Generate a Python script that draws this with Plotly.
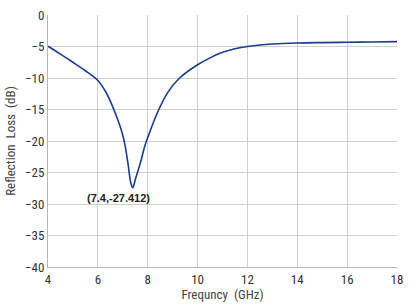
import plotly.graph_objects as go

freq = [4.0, 4.5, 5.0, 5.5, 6.0, 6.33, 6.59, 6.85, 7.0, 7.1, 7.22, 7.32, 7.4, 7.51, 7.71, 7.9, 8.1, 8.4, 8.82, 9.28, 10.0, 10.5, 10.92, 11.5, 12.0, 12.5, 13.0, 14.0, 15.0, 16.0, 17.0, 18.0]
rl = [-4.95, -6.2, -7.5, -8.85, -10.4, -12.3, -14.5, -17.2, -19.1, -20.9, -23.9, -26.6, -27.41, -26.0, -23.4, -20.6, -18.4, -15.4, -12.2, -10.0, -7.9, -6.8, -6.05, -5.35, -5.0, -4.75, -4.6, -4.45, -4.38, -4.33, -4.28, -4.22]

peak_x, peak_y = 7.4, -27.412
x_ticks = [4, 6, 8, 10, 12, 14, 16, 18]
y_ticks = [0, -5, -10, -15, -20, -25, -30, -35, -40]

fig = go.Figure()
fig.add_trace(go.Scatter(x=freq, y=rl, mode="lines",
                         line=dict(color="#1b3c8c", width=1.6, shape="spline", smoothing=1.0),
                         hoverinfo="skip", showlegend=False))
fig.add_annotation(x=6.81, y=-29.1, text="<b>(%.1f,%.3f)</b>" % (peak_x, peak_y),
                   showarrow=False, font=dict(size=11, color="#222", family="Liberation Sans, Arial"))

font = "Liberation Sans Narrow, Roboto Condensed, Roboto, sans-serif"
fig.update_layout(
    width=411, height=308,
    margin=dict(l=48, r=8, t=8, b=40),
    paper_bgcolor="white", plot_bgcolor="white",
    font=dict(family=font, size=13, color="#333"),
    xaxis=dict(range=[4, 18], tickvals=x_ticks, showgrid=True, gridcolor="#cfcfcf", gridwidth=1,
               zeroline=False, showline=True, linecolor="#b5b5b5", linewidth=1, mirror=False,
               ticks="", title=dict(text="Frequncy  (GHz)", font=dict(size=13, color="#444"), standoff=4)),
    yaxis=dict(range=[-40, 0], tickvals=y_ticks, showgrid=True, gridcolor="#cfcfcf", gridwidth=1,
               zeroline=False, showline=True, linecolor="#b5b5b5", linewidth=1,
               ticks="", title=dict(text="Reflection  Loss  (dB)", font=dict(size=13, color="#444"), standoff=6)),
)
fig.write_html("out.html")
